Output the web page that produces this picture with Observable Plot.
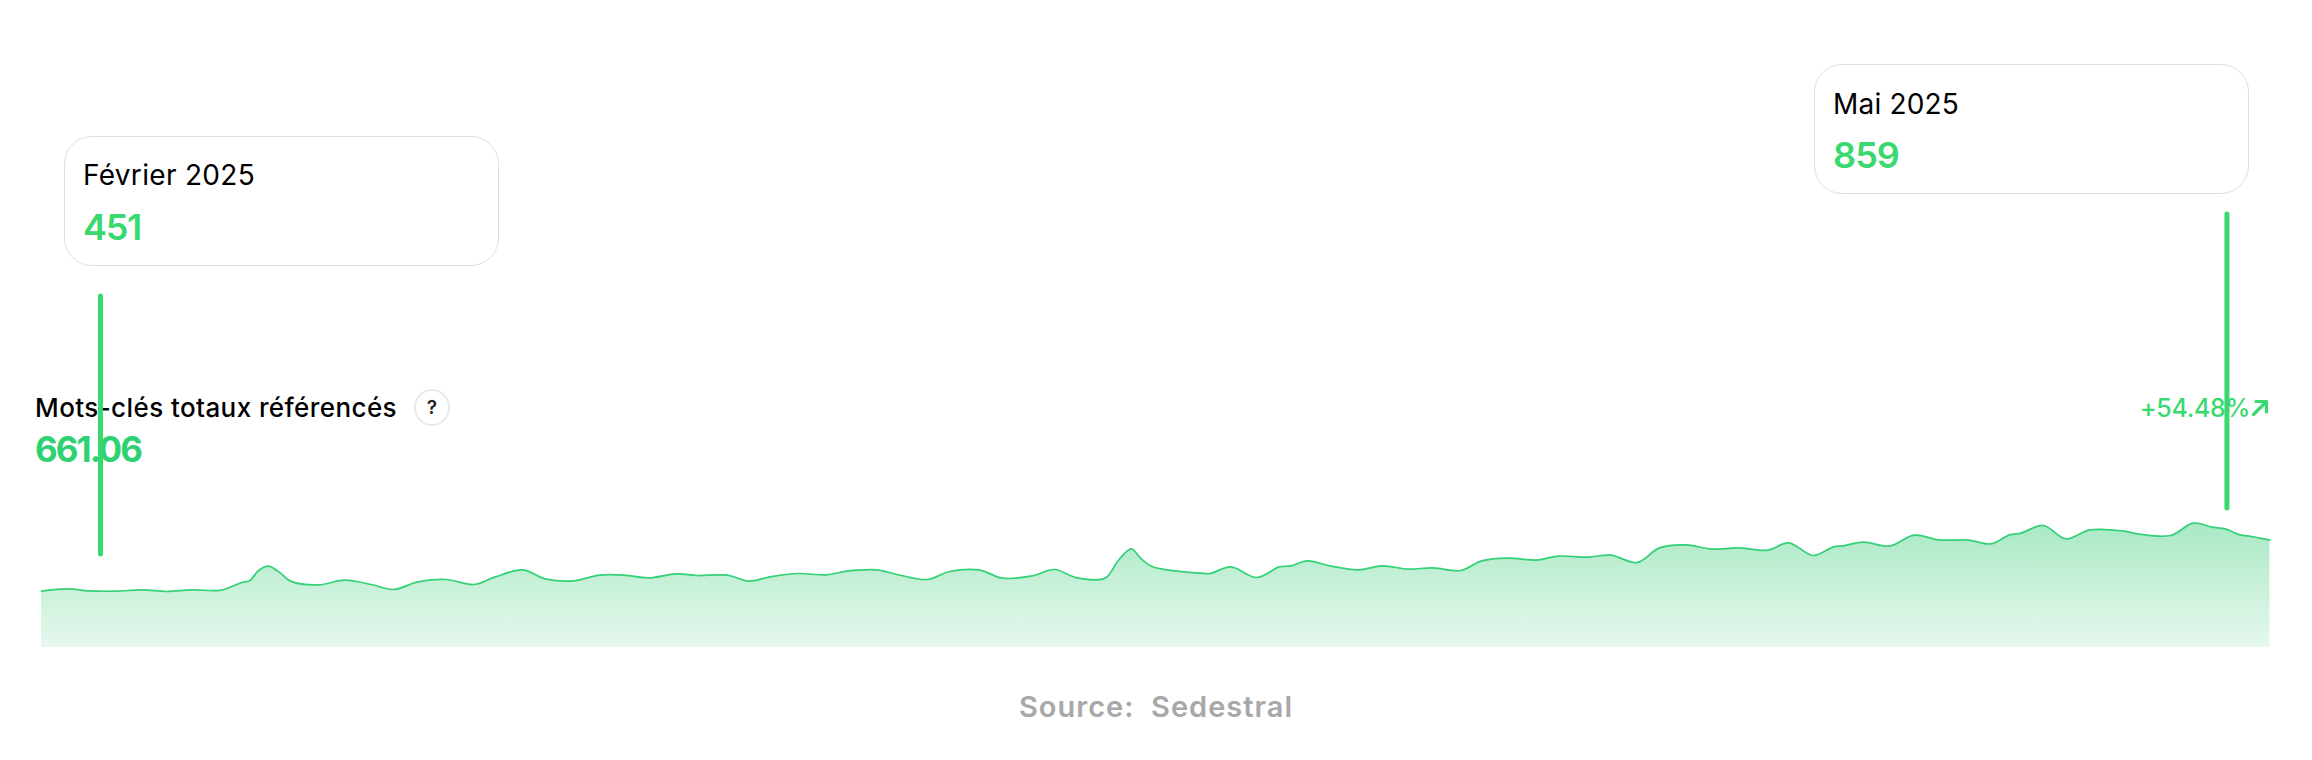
<!DOCTYPE html>
<html lang="fr">
<head>
<meta charset="utf-8">
<title>Mots-clés totaux référencés</title>
<script src="https://cdn.jsdelivr.net/npm/d3@7"></script>
<script src="https://cdn.jsdelivr.net/npm/@observablehq/plot@0.6"></script>
<style>
  html, body { margin: 0; padding: 0; background: #fff; }
  #page { position: relative; width: 2312px; height: 760px; overflow: hidden; font-family: Inter, sans-serif; }
  .t { position: absolute; white-space: pre; line-height: 1; }
  .card { position: absolute; box-sizing: border-box; border: 1.5px solid #dedede; border-radius: 28px; background: #fff; }
  .green { color: #39d96f; }
  #chart { position: absolute; left: 0; top: 0; }
  #help { position: absolute; left: 414px; top: 389px; width: 36px; height: 37px; box-sizing: border-box; border: 2px solid #e8e8e8; border-radius: 50%; font-size: 19px; font-weight: 600; display: flex; align-items: center; justify-content: center; color: #222; }
  #arrow { position: absolute; left: 2251px; top: 399px; }
</style>
</head>
<body>
<div id="page">
  <div class="card" style="left:64px;top:136px;width:435px;height:130px"></div>
  <div class="card" style="left:1814px;top:64px;width:435px;height:130px"></div>
  <div class="t" data-w="172" style="left:83px;top:161px;font-size:28px;color:#000">Février 2025</div>
  <div class="t green" data-w="58" style="left:83px;top:209px;font-size:36px;font-weight:600">451</div>
  <div class="t" data-w="126" style="left:1833px;top:90px;font-size:28px;color:#000">Mai 2025</div>
  <div class="t green" data-w="66" style="left:1833px;top:137px;font-size:36px;font-weight:600">859</div>
  <div class="t" data-w="362" style="left:35px;top:395px;font-size:26px;font-weight:450;color:#000">Mots-clés totaux référencés</div>
  <div id="help">?</div>
  <div class="t" data-w="106" style="left:35px;top:432px;font-size:35px;font-weight:700;color:#2fd272">661.06</div>
  <div class="t green" data-w="110" style="left:2140px;top:396px;font-size:25px;font-weight:500">+54.48%</div>
  <svg id="arrow" width="18" height="18" viewBox="0 0 18 18" fill="none" stroke="#39d96f" stroke-width="3.2" stroke-linecap="round" stroke-linejoin="round"><path d="M2.5 15.5 L15 3 M5 2.5 H15.5 V13"/></svg>
  <div class="t" data-w="274" style="left:1019px;top:692px;font-size:29px;font-weight:600;color:#a8a8a8">Source:  Sedestral</div>
</div>
<script>
const days = [0,1.4,2.5,4,5.4,6.7,8,9.6,10.7,11.1,11.6,12.1,12.7,13.3,14.8,16.2,17.6,18.8,20.1,21.6,23.1,24.2,25.7,26.9,28.4,29.8,31.1,32.4,33.9,35,36.6,37.8,38.9,40.4,41.9,43,44.6,45.9,47.3,48.5,50.1,51.3,52.9,54.1,55.3,56.8,57.5,58.2,58.7,59.3,60.5,61.9,62.4,63.5,64.9,66.1,66.7,67.6,68.8,70.3,71.6,73,74.3,75.8,76.9,78.3,79.8,81,82.6,83.8,85.2,86.4,87.8,89.2,90.6,92.2,93.3,94.6,95.7,96.2,97.3,98.7,100,101.3,102.9,104.1,105.1,105.7,106.9,108.1,109.4,111.2,112,113.7,114.9,115.9,116.6,117.4,118,119];
const keywords = [451,469,453,451,461,448,461,459,520,533,616,651,603,531,501,539,504,464,525,544,504,563,621,549,533,579,579,557,589,576,579,531,565,592,581,611,621,576,544,608,619,555,573,624,557,555,696,789,712,648,613,595,592,645,560,645,653,693,653,621,653,627,637,616,693,715,699,731,723,739,680,797,821,787,797,779,837,736,805,813,843,811,899,861,859,829,901,915,976,869,941,931,907,896,995,963,949,901,888,859];
const series = days.map((d, i) => ({day: d, value: keywords[i]}));
const markers = [
  {day: 3.15, from: 744, to: 2808},
  {day: 116.7, from: 1112, to: 3464}
];
const green = "#39d96f";

const chart = Plot.plot({
  width: 2312,
  height: 760,
  margin: 0,
  style: {background: "transparent", overflow: "visible"},
  x: {type: "linear", domain: [0, 119], range: [41, 2269.5], axis: null},
  y: {type: "linear", domain: [0, 5176], range: [647, 0], axis: null},
  marks: [
    () => {
      const defs = d3.create("svg:defs");
      const g = defs.append("linearGradient").attr("id", "areaGrad")
        .attr("x1", 0).attr("x2", 0).attr("y1", 0).attr("y2", 1);
      g.append("stop").attr("offset", "0%").attr("stop-color", "#a9e9c4");
      g.append("stop").attr("offset", "100%").attr("stop-color", "#e6f8ee");
      return defs.node();
    },
    Plot.areaY(series, {x: "day", y: "value", curve: "catmull-rom", fill: "url(#areaGrad)"}),
    Plot.lineY(series, {x: "day", y: "value", curve: "catmull-rom", stroke: "#34d177", strokeWidth: 1.7}),
    Plot.ruleX(markers, {x: "day", y1: "from", y2: "to", stroke: green, strokeWidth: 5, strokeLinecap: "round"})
  ]
});
chart.id = "chart";
document.getElementById("page").appendChild(chart);

// Montserrat is not installed: stretch the tracking so each label keeps its width.
function fit() {
  document.querySelectorAll(".t[data-w]").forEach(el => {
    el.style.letterSpacing = "";
    const w = +el.dataset.w;
    const n = el.textContent.length;
    const cur = el.getBoundingClientRect().width;
    el.style.letterSpacing = ((w - cur) / n) + "px";
  });
}
fit();
if (document.fonts && document.fonts.ready) document.fonts.ready.then(fit);
</script>
</body>
</html>
